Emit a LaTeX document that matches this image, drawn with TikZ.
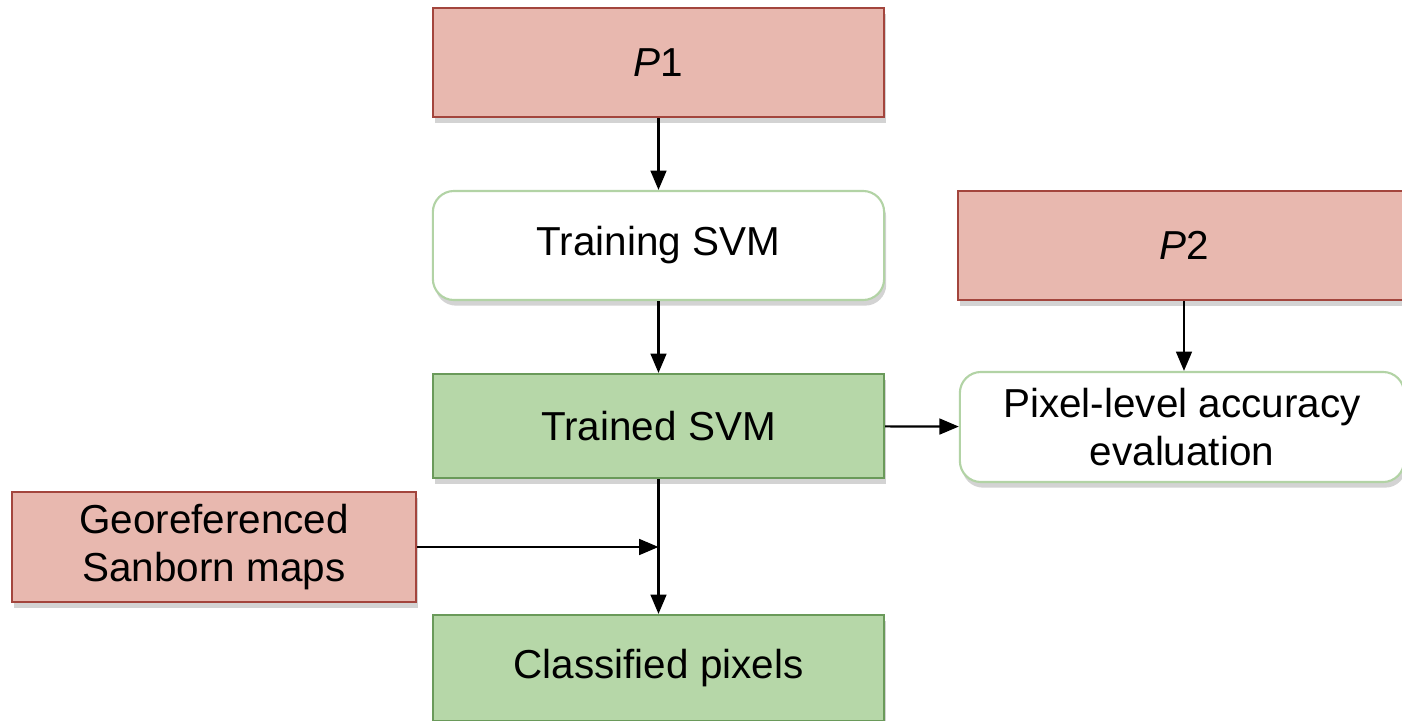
\documentclass[tikz,border=0pt]{standalone}
\usepackage{fontspec}
\setmainfont{Liberation Sans}
\usetikzlibrary{arrows.meta,shadows}
\definecolor{inputfill}{HTML}{E8B8AF}
\definecolor{inputline}{HTML}{A3453D}
\definecolor{svmfill}{HTML}{B6D7A8}
\definecolor{svmline}{HTML}{6A9A5A}
\definecolor{stepline}{HTML}{B2D3A5}
\tikzset{
  box/.style={minimum height=1.09cm, align=center, inner sep=0pt,
    font=\fontsize{11.5}{13.5}\selectfont,
    drop shadow={shadow xshift=0.6pt, shadow yshift=-1.6pt, opacity=0.35}},
  inputbox/.style={box, fill=inputfill, draw=inputline, line width=0.6pt},
  svmbox/.style={box, fill=svmfill, draw=svmline, line width=0.6pt},
  stepbox/.style={box, fill=white, draw=stepline, line width=0.6pt, rounded corners=6pt},
  flow/.style={-{Triangle[length=5.5pt,width=4.5pt]}, line width=0.6pt}
}
\begin{document}
\begin{tikzpicture}[x=0.01cm, y=-0.01cm]
  \useasboundingbox (0,0) rectangle (1402,721);
  \draw
    (658.5,62.5) node[inputbox, minimum width=4.51cm] (p1){{\itshape P}1}
    (658.5,245.5) node[stepbox, minimum width=4.51cm] (training){Training SVM}
    (1184,245.5) node[inputbox, minimum width=4.52cm] (p2){{\itshape P}2}
    (658.5,426) node[svmbox, minimum width=4.51cm, minimum height=1.04cm] (trained){Trained SVM}
    (1182,427) node[stepbox, minimum width=4.44cm, minimum height=1.10cm] (accuracy){Pixel-level accuracy\\evaluation}
    (214,547) node[inputbox, minimum width=4.04cm, minimum height=1.10cm] (sanborn){Georeferenced\\Sanborn maps}
    (658.5,668) node[svmbox, minimum width=4.51cm, minimum height=1.06cm] (pixels){Classified pixels};
  \coordinate (join) at (trained.south |- sanborn.east);
  \begin{scope}[flow]
    \draw (p1) to (training);
    \draw (training) to (trained);
    \draw (p2) to (p2 |- accuracy.north);
    \draw (trained) to (accuracy);
    \draw (trained) to (pixels);
    \draw (sanborn) to (join);
  \end{scope}
\end{tikzpicture}
\end{document}
